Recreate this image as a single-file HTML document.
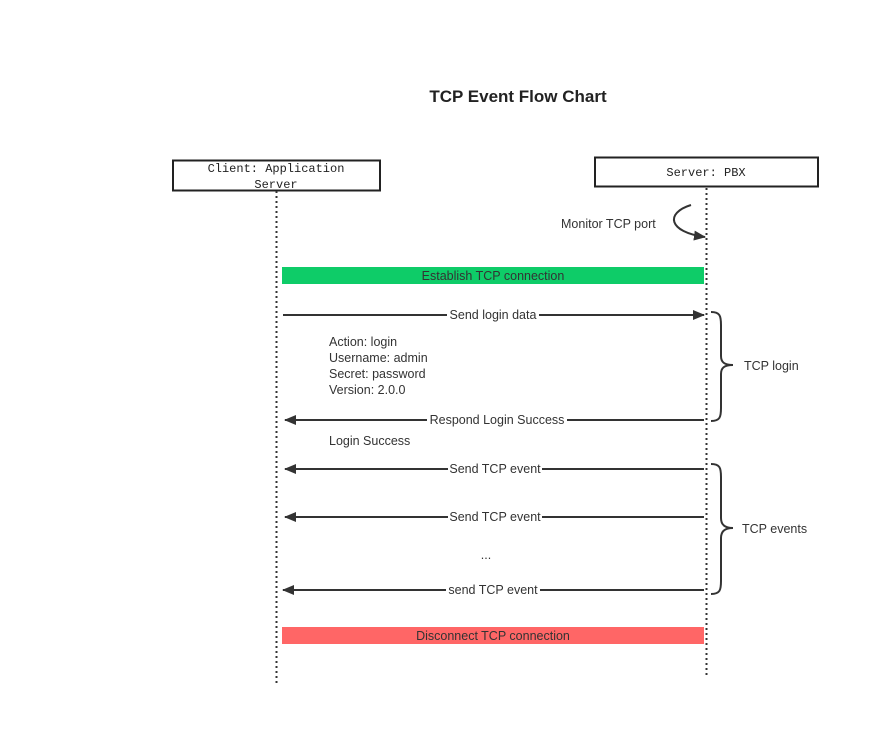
<!DOCTYPE html>
<html><head><meta charset="utf-8"><style>body{margin:0;background:#fff}svg{display:block}</style></head><body>
<svg width="880" height="746" xmlns="http://www.w3.org/2000/svg" font-family="Liberation Sans, sans-serif" font-size="12.5" fill="#333">
<defs><marker id="a" markerWidth="12" markerHeight="10" refX="11" refY="5" orient="auto" markerUnits="userSpaceOnUse"><path d="M0,0 L12,5 L0,10 Z" fill="#333"/></marker></defs>
<text x="518" y="102" text-anchor="middle" font-weight="bold" font-size="17" fill="#222">TCP Event Flow Chart</text>
<rect x="173" y="160.5" width="207" height="30" fill="#fff" stroke="#222" stroke-width="2"/>
<text x="276" y="172" text-anchor="middle" font-family="Liberation Mono, monospace" font-size="12" fill="#222">Client: Application</text>
<text x="276" y="188" text-anchor="middle" font-family="Liberation Mono, monospace" font-size="12" fill="#222">Server</text>
<rect x="595" y="157.5" width="223" height="29" fill="#fff" stroke="#222" stroke-width="2"/>
<text x="706" y="176" text-anchor="middle" font-family="Liberation Mono, monospace" font-size="12" fill="#222">Server: PBX</text>
<line x1="276.5" y1="191" x2="276.5" y2="683" stroke="#333" stroke-width="2" stroke-dasharray="2,3"/>
<line x1="706.5" y1="188" x2="706.5" y2="678" stroke="#333" stroke-width="2" stroke-dasharray="2,3"/>
<path d="M691,205 C665,213 668,232 705,237" fill="none" stroke="#333" stroke-width="2" marker-end="url(#a)"/>
<text x="561" y="228">Monitor TCP port</text>
<rect x="282" y="267" width="422" height="17" fill="#0ecc68"/>
<text x="493" y="280" text-anchor="middle">Establish TCP connection</text>
<line x1="283" y1="315" x2="704" y2="315" stroke="#333" stroke-width="2" marker-end="url(#a)"/>
<rect x="447" y="307" width="92" height="16" fill="#fff"/><text x="493" y="319" text-anchor="middle">Send login data</text>
<text x="329" y="346">Action: login</text>
<text x="329" y="362">Username: admin</text>
<text x="329" y="378">Secret: password</text>
<text x="329" y="394">Version: 2.0.0</text>
<line x1="704" y1="420" x2="285" y2="420" stroke="#333" stroke-width="2" marker-end="url(#a)"/>
<rect x="427" y="412" width="140" height="16" fill="#fff"/><text x="497" y="424" text-anchor="middle">Respond Login Success</text>
<text x="329" y="445">Login Success</text>
<path d="M711,312 C720,312 721,316 721,325 L721,356 C721,362 724,365 733,365 C724,365 721,368 721,374 L721,408 C721,417 720,421 711,421" fill="none" stroke="#333" stroke-width="2"/>
<text x="744" y="370">TCP login</text>
<line x1="704" y1="469" x2="285" y2="469" stroke="#333" stroke-width="2" marker-end="url(#a)"/>
<rect x="448" y="461" width="94" height="16" fill="#fff"/><text x="495" y="473" text-anchor="middle">Send TCP event</text>
<line x1="704" y1="517" x2="285" y2="517" stroke="#333" stroke-width="2" marker-end="url(#a)"/>
<rect x="448" y="509" width="94" height="16" fill="#fff"/><text x="495" y="521" text-anchor="middle">Send TCP event</text>
<text x="486" y="559" text-anchor="middle">...</text>
<line x1="704" y1="590" x2="283" y2="590" stroke="#333" stroke-width="2" marker-end="url(#a)"/>
<rect x="446" y="582" width="94" height="16" fill="#fff"/><text x="493" y="594" text-anchor="middle">send TCP event</text>
<path d="M711,464 C720,464 721,468 721,477 L721,518 C721,524 724,528 733,528 C724,528 721,532 721,538 L721,581 C721,590 720,594 711,594" fill="none" stroke="#333" stroke-width="2"/>
<text x="742" y="533">TCP events</text>
<rect x="282" y="627" width="422" height="17" fill="#ff6666"/>
<text x="493" y="640" text-anchor="middle">Disconnect TCP connection</text>
</svg>
</body></html>
